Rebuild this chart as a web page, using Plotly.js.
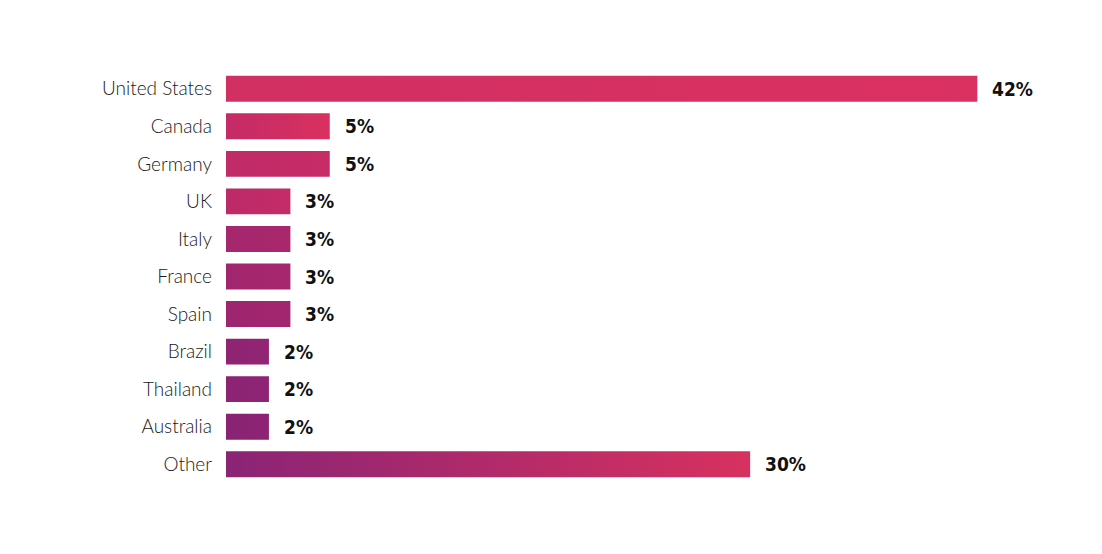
<!DOCTYPE html>
<html>
<head>
<meta charset="utf-8">
<script src="https://cdn.plot.ly/plotly-3.0.1.min.js"></script>
<style>
html,body{margin:0;padding:0;background:#fff;}
#chart{width:1102px;height:554px;}
</style>
</head>
<body>
<div id="chart"></div>
<script>
const countries = ["United States","Canada","Germany","UK","Italy","France","Spain","Brazil","Thailand","Australia","Other"];
const shares = [42, 5.8, 5.8, 3.6, 3.6, 3.6, 3.6, 2.4, 2.4, 2.4, 29.3];
const shareLabels = ["42%","5%","5%","3%","3%","3%","3%","2%","2%","2%","30%"];

const gradLeft  = ["#d22f63","#c42b67","#c02b68","#bc2a68","#a5276e","#a2266e","#9e256f","#8f2473","#8c2373","#8a2374","#8a2475"];
const gradRight = ["#da3161","#d9315f","#c72c66","#c42c67","#a9276d","#a6276d","#a2266e","#922473","#8f2473","#8d2473","#d8315f"];

const trace = {
  type: 'bar',
  orientation: 'h',
  x: shares,
  y: countries,
  width: 0.69,
  marker: {color: gradRight, line: {width: 0}},
  hoverinfo: 'none'
};

const annotations = shares.map((v, i) => ({
  x: v, y: countries[i], xref: 'x', yref: 'y',
  text: shareLabels[i], showarrow: false,
  xanchor: 'left', yanchor: 'middle', xshift: 13,
  font: {family: 'DejaVu Sans Condensed, DejaVu Sans', size: 19, color: '#111', weight: 'bold'}
}));

const layout = {
  width: 1102, height: 554,
  margin: {l: 226, r: 71.4, t: 70.25, b: 71.25},
  paper_bgcolor: '#fff', plot_bgcolor: '#fff',
  showlegend: false,
  xaxis: {range: [0, 45], visible: false, fixedrange: true},
  yaxis: {
    autorange: 'reversed', showgrid: false, zeroline: false, showline: false,
    ticks: '', ticklabelstandoff: 13,
    tickfont: {family: 'Lato, Roboto, sans-serif', size: 19, color: '#1a1a1a', weight: 300},
    fixedrange: true
  },
  annotations: annotations
};

Plotly.newPlot('chart', [trace], layout, {displayModeBar: false, staticPlot: true}).then(function(gd){
  const svg = gd.querySelector('svg.main-svg');
  const ns = 'http://www.w3.org/2000/svg';
  let defs = svg.querySelector('defs');
  if (!defs) { defs = document.createElementNS(ns, 'defs'); svg.insertBefore(defs, svg.firstChild); }
  const paths = gd.querySelectorAll('.barlayer .point path');
  paths.forEach(function(p, i){
    const g = document.createElementNS(ns, 'linearGradient');
    g.setAttribute('id', 'barGrad' + i);
    g.setAttribute('x1', '0'); g.setAttribute('y1', '0');
    g.setAttribute('x2', '1'); g.setAttribute('y2', '0');
    const s0 = document.createElementNS(ns, 'stop');
    s0.setAttribute('offset', '0'); s0.setAttribute('stop-color', gradLeft[i]);
    const s1 = document.createElementNS(ns, 'stop');
    s1.setAttribute('offset', '1'); s1.setAttribute('stop-color', gradRight[i]);
    g.appendChild(s0); g.appendChild(s1);
    defs.appendChild(g);
    p.style.fill = 'url(#barGrad' + i + ')';
  });
});
</script>
</body>
</html>
